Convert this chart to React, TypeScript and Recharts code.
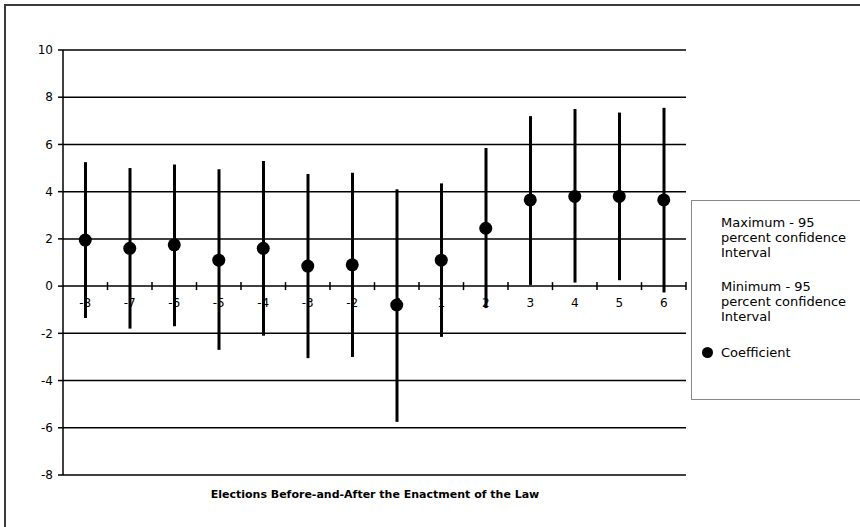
import React from "react";
import { ComposedChart, CartesianGrid, XAxis, YAxis, Bar, Line } from "recharts";

const elections = ["-8", "-7", "-6", "-5", "-4", "-3", "-2", "-1", "1", "2", "3", "4", "5", "6"];
const maxCI = [5.25, 5.0, 5.15, 4.95, 5.3, 4.75, 4.8, 4.1, 4.35, 5.85, 7.2, 7.5, 7.35, 7.55];
const minCI = [-1.35, -1.8, -1.7, -2.7, -2.1, -3.05, -3.0, -5.75, -2.15, -0.93, 0.05, 0.15, 0.25, -0.27];
const coefficient = [1.95, 1.6, 1.75, 1.1, 1.6, 0.85, 0.9, -0.8, 1.1, 2.45, 3.65, 3.8, 3.8, 3.65];
const yTicks = [-8, -6, -4, -2, 0, 2, 4, 6, 8, 10];

const data = elections.map((name, i) => ({
  name,
  range: [minCI[i], maxCI[i]],
  coef: coefficient[i],
}));

// plot area
const TOP = 50;
const BOTTOM = 475;
const LEFT = 63;
const RIGHT = 686;
const Y0 = TOP + ((BOTTOM - TOP) * 10) / 18;
const BAND = (RIGHT - LEFT) / elections.length;

const renderZeroTick = (props: any) => {
  const { x, payload } = props;
  return (
    <g>
      <text x={x} y={Y0 + 21} textAnchor="middle" fontSize={12} fill="#000">
        {payload.value}
      </text>
      <line x1={x + BAND / 2} y1={Y0 - 4} x2={x + BAND / 2} y2={Y0 + 4} stroke="#000" strokeWidth={1.5} />
    </g>
  );
};

const legendText: React.CSSProperties = { fontSize: 13, lineHeight: "15px", color: "#000" };

export default function App() {
  return (
    <div
      style={{
        position: "absolute",
        left: 0,
        top: 0,
        width: 860,
        height: 527,
        overflow: "hidden",
        background: "#fff",
        fontFamily: "'DejaVu Sans', Verdana, sans-serif",
      }}
    >
      <div
        style={{
          position: "absolute",
          left: 4,
          top: 4,
          width: 900,
          height: 600,
          border: "2px solid #3a3a3a",
        }}
      />
      <ComposedChart
        width={860}
        height={527}
        data={data}
        margin={{ top: TOP, right: 860 - RIGHT, bottom: 527 - BOTTOM - 20, left: LEFT - 40 }}
        style={{ position: "absolute", left: 0, top: 0 }}
      >
        <CartesianGrid horizontal vertical={false} stroke="#000" strokeWidth={1.5} strokeOpacity={1} />
        <XAxis
          dataKey="name"
          height={20}
          axisLine={false}
          tickLine={false}
          interval={0}
          tick={renderZeroTick}
        />
        <YAxis
          width={40}
          domain={[-8, 10]}
          ticks={yTicks}
          interval={0}
          axisLine={{ stroke: "#000", strokeWidth: 1.5 }}
          tickLine={{ stroke: "#000", strokeWidth: 1.5 }}
          tickSize={5}
          tickMargin={5}
          tick={{ fontSize: 12, fill: "#000" }}
        />
        <Bar dataKey="range" barSize={3} fill="#000" isAnimationActive={false} />
        <Line
          dataKey="coef"
          stroke="none"
          dot={{ r: 6.5, fill: "#000", stroke: "none" }}
          activeDot={false}
          isAnimationActive={false}
        />
      </ComposedChart>
      <div
        style={{
          position: "absolute",
          left: 691,
          top: 200,
          width: 200,
          height: 200,
          border: "1px solid #888",
          background: "#fff",
          boxSizing: "border-box",
          paddingTop: 14,
          paddingLeft: 29,
        }}
      >
        <div style={legendText}>
          Maximum - 95<br />percent confidence<br />Interval
        </div>
        <div style={{ ...legendText, marginTop: 19 }}>
          Minimum - 95<br />percent confidence<br />Interval
        </div>
        <div style={{ ...legendText, marginTop: 21, position: "relative" }}>
          <span
            style={{
              position: "absolute",
              left: -19,
              top: 2,
              width: 11,
              height: 11,
              borderRadius: "50%",
              background: "#000",
            }}
          />
          Coefficient
        </div>
      </div>
      <div
        style={{
          position: "absolute",
          left: 0,
          width: 750,
          top: 488,
          textAlign: "center",
          fontSize: 11,
          fontWeight: "bold",
          color: "#000",
        }}
      >
        Elections Before-and-After the Enactment of the Law
      </div>
    </div>
  );
}
